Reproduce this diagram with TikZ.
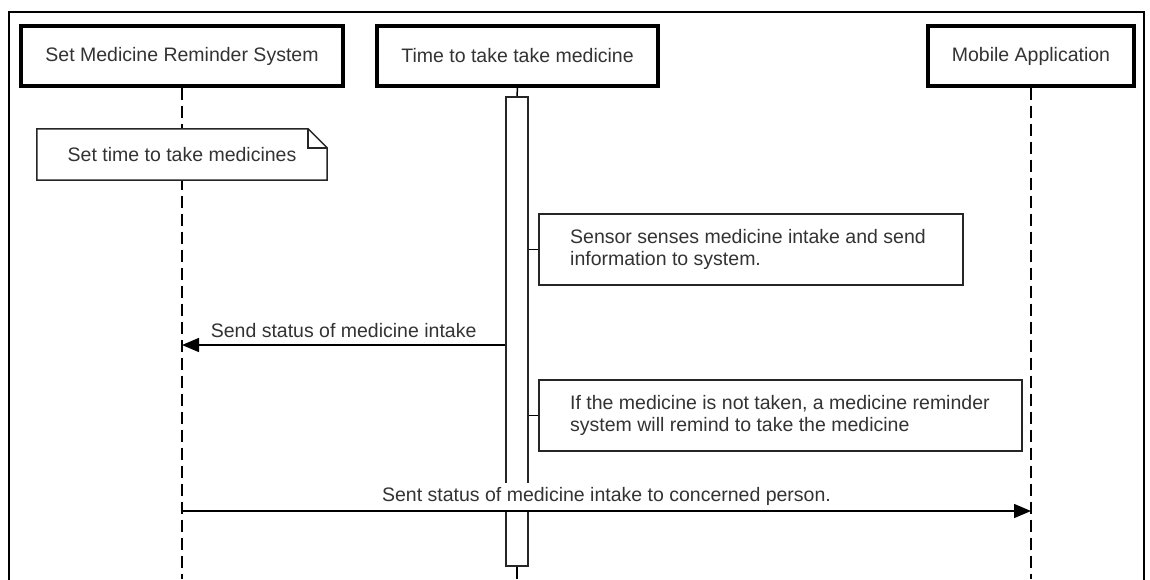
\documentclass[tikz,border=0pt]{standalone}
\usepackage{fontspec}
\setmainfont{Liberation Sans}
\usetikzlibrary{arrows.meta,calc}
\definecolor{ink}{HTML}{333333}
\begin{document}
\begin{tikzpicture}[x=1pt,y=-1pt,
  font=\fontsize{19.5}{22}\selectfont,
  actor/.style={draw=black,line width=3.4pt,fill=white,text=ink,minimum height=60pt,inner sep=0pt},
  notebox/.style={draw=black!85,line width=1.5pt,fill=white,inner sep=0pt},
  notetext/.style={text=ink,align=left,anchor=west,inner sep=0pt},
  lifeline/.style={line width=1.5pt,dash pattern=on 12pt off 6pt},
  msg/.style={line width=1.5pt,-{Triangle[length=17pt,width=14pt]}},
  msglabel/.style={text=ink,inner sep=0pt}]
\useasboundingbox (0,0) rectangle (1150,579);
\fill[white] (0,0) rectangle (1150,579);

% outer frame (open at the bottom edge of the page)
\draw[line width=1.8pt] (9,600) -- (9,12) -- (1144,12) -- (1144,600);

% participants
\node[actor,minimum width=322pt] (sys) at (182,56) {Set Medicine Reminder System};
\node[actor,minimum width=281pt] (time) at (517.5,56) {Time to take take medicine};
\node[actor,minimum width=206pt] (app) at (1031,56) {Mobile Application};

\coordinate (sysend) at (182,579);
\coordinate (append) at (1031,579);
\coordinate (timeend) at (517,579);

% lifelines
\draw[lifeline] (sys.south) -- (sysend);
\draw[lifeline] (app.south) -- (append);

% activation bar
\node[draw=black!85,line width=1.5pt,fill=white,minimum width=22pt,minimum height=469pt,inner sep=0pt,anchor=north] (bar) at (517,96) {};
\draw[line width=1.5pt] (time.south) -- (bar.north);
\draw[line width=1.5pt] (bar.south) -- (timeend);

% note with folded corner
\node[minimum width=290pt,minimum height=51pt,inner sep=0pt,fill=white] (settime) at (182,154.5) {};
\draw[black!85,line width=1.5pt,fill=white]
  (settime.north west) -- ($(settime.north east)+(-19,0)$) -- ($(settime.north east)+(0,19)$)
  -- (settime.south east) -- (settime.south west) -- cycle;
\draw[black!85,line width=1.5pt]
  ($(settime.north east)+(-19,0)$) -- ($(settime.north east)+(-19,19)$) -- ($(settime.north east)+(0,19)$);
\node[text=ink,inner sep=0pt] (settimetxt) at (settime.center) {Set time to take medicines};

% comment boxes attached to the activation bar
\node[notebox,anchor=north west,minimum width=424pt,minimum height=71pt] (sense) at (538,213) {};
\node[notetext] (sensetxt) at ($(sense.west)+(32,0)$) {Sensor senses medicine intake and send\\information to system.};
\draw[line width=1.5pt] (bar.east |- sense.west) -- (sense.west);

\node[notebox,anchor=north west,minimum width=483pt,minimum height=71pt] (remind) at (538,379) {};
\node[notetext] (remindtxt) at ($(remind.west)+(32,0)$) {If the medicine is not taken, a medicine reminder\\system will remind to take the medicine};
\draw[line width=1.5pt] (bar.east |- remind.west) -- (remind.west);

% messages
\coordinate (m1start) at (bar.west |- 0,345);
\draw[msg] (m1start) -- (sysend |- m1start);
\node[msglabel,anchor=base] (m1lbl) at ($(m1start)!0.5!(sysend |- m1start)+(0,-8)$) {Send status of medicine intake};

\coordinate (m2start) at (sysend |- 0,511);
\node[msglabel,fill=white,anchor=south,minimum height=27pt] (m2lbl) at ($(m2start)!0.5!(append |- m2start)+(0,-1)$) {Sent status of medicine intake to concerned person.};
\draw[msg] (m2start) -- (append |- m2start);
\end{tikzpicture}
\end{document}
